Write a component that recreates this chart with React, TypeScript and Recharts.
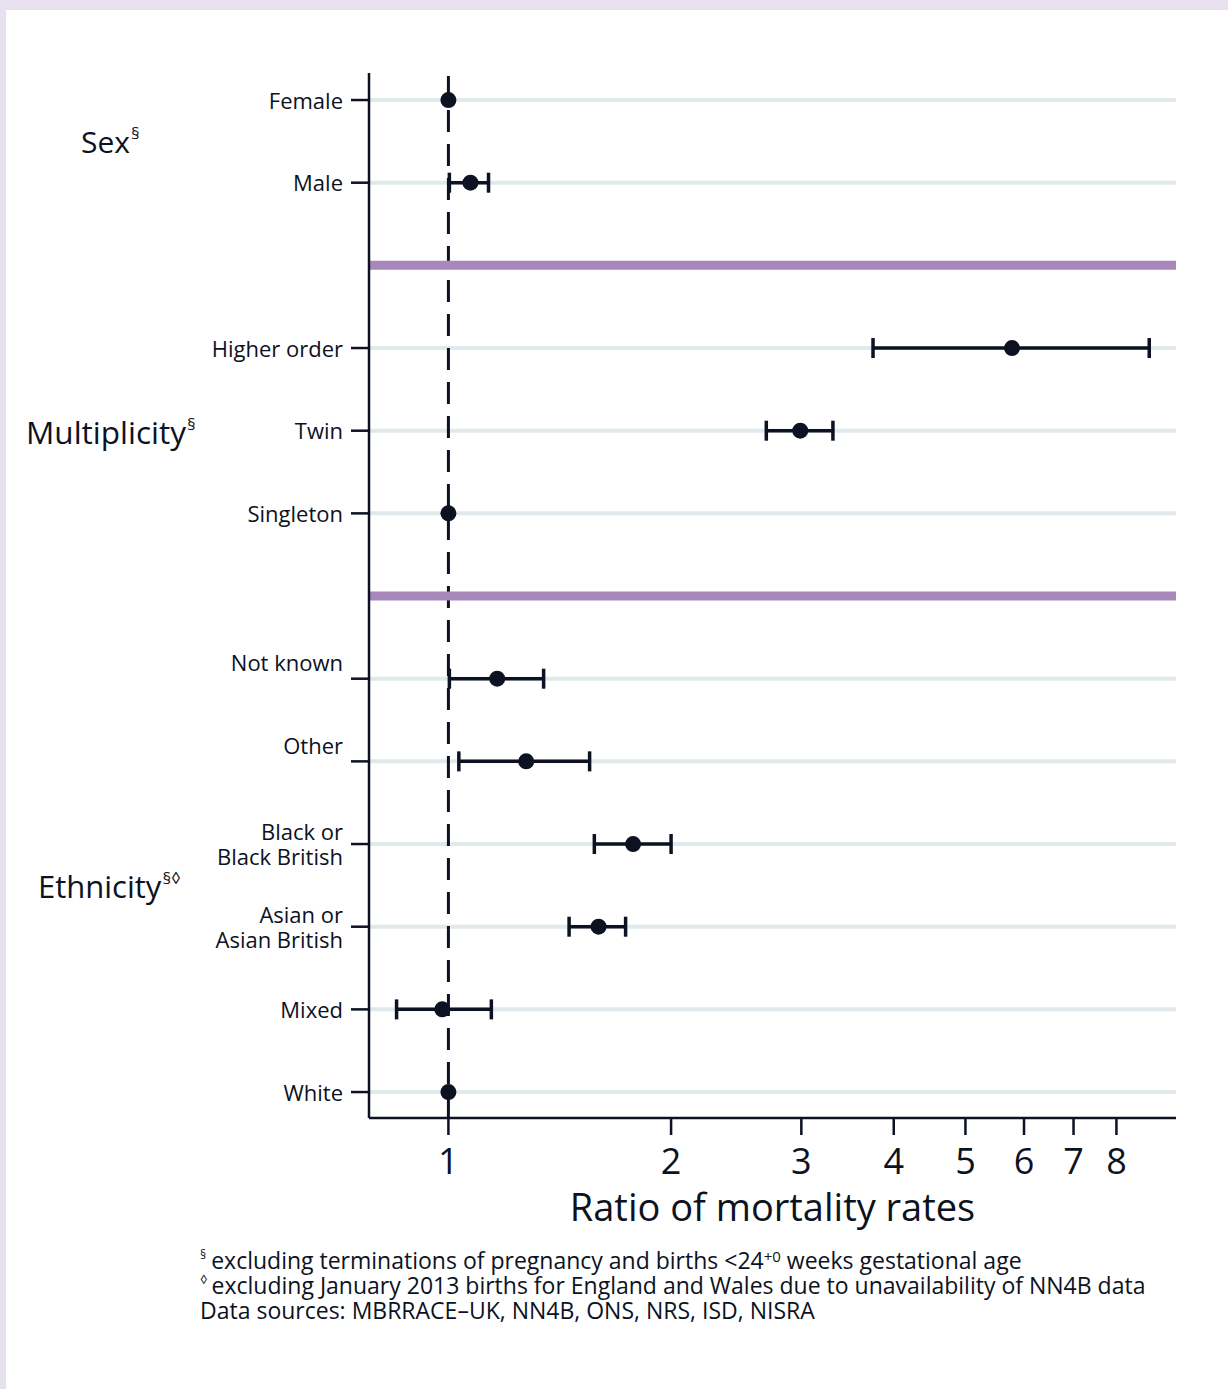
import React from "react"
import {
  ScatterChart, Scatter, XAxis, YAxis, ReferenceLine, ErrorBar,
} from "recharts"

const INK = "#0c1222"
const GRID = "#e2e9ec"
const PURPLE = "#a887bb"
const FONT = '"Open Sans", "Noto Sans", sans-serif'

// Rows top to bottom; gaps at 2 and 6 hold the group separators
const rowLabels = [
  "Female", "Male",
  "Higher order", "Twin", "Singleton",
  "Not known", "Other", "Black or\nBlack British", "Asian or\nAsian British", "Mixed", "White",
]
const rowPos = [0, 1, 3, 4, 5, 7, 8, 9, 10, 11, 12]
const separators = [2, 6]

// Rate ratios with 95% CI (reference categories have no interval)
const estimate = [1, 1.071, 5.78, 2.99, 1, 1.164, 1.274, 1.777, 1.596, 0.981, 1]
const lower = [null, 1.003, 3.75, 2.69, null, 1.003, 1.033, 1.575, 1.456, 0.851, null]
const upper = [null, 1.133, 8.86, 3.31, null, 1.345, 1.552, 2.0, 1.736, 1.143, null]

const xTicks = [1, 2, 3, 4, 5, 6, 7, 8]
const xDomain = [0.781, 9.63]
const yDomain = [-0.327, 12.314]

// Labels that sit a little above their tick
const raisedRows = [7, 8]

const withCI = rowPos
  .map((y, i) => ({ y, x: estimate[i], lo: lower[i], hi: upper[i] }))
  .filter((d) => d.lo != null && d.hi != null)
  .map((d) => ({ x: d.x, y: d.y, err: [d.x - (d.lo as number), (d.hi as number) - d.x] }))

const refRows = rowPos
  .map((y, i) => ({ y, x: estimate[i], lo: lower[i] }))
  .filter((d) => d.lo == null)
  .map((d) => ({ x: d.x, y: d.y }))

const Dot = (props: any) => <circle cx={props.cx} cy={props.cy} r={8} fill={INK} />

function RowTick(props: any) {
  const { x, y, payload } = props
  const idx = rowPos.indexOf(payload.value)
  if (idx < 0) return null
  const lines = rowLabels[idx].split("\n")
  const shift = raisedRows.includes(payload.value) ? -16 : 0
  const lh = 25
  const top = y + shift - ((lines.length - 1) * lh) / 2 + 1
  return (
    <text x={x} textAnchor="end" fill={INK} fontSize={22} fontFamily={FONT}>
      {lines.map((l, i) => (
        <tspan key={i} x={x} y={top + i * lh} dy="0.35em">{l}</tspan>
      ))}
    </text>
  )
}

function GroupLabel({ text, sup, left, cy, size }: { text: string; sup: string; left: number; cy: number; size: number }) {
  return (
    <div style={{ position: "absolute", left, top: cy, transform: "translateY(-50%)", fontSize: size, lineHeight: 1, whiteSpace: "nowrap" }}>
      {text}
      <span style={{ fontSize: 17, position: "relative", top: -14, marginLeft: 1, lineHeight: 0 }}>{sup}</span>
    </div>
  )
}

export default function App() {
  return (
    <div style={{ position: "absolute", left: 0, top: 0, width: 1228, height: 1389, background: "#e6e0ef", fontFamily: FONT, color: INK, overflow: "hidden" }}>
      <div style={{ position: "absolute", left: 6, top: 10, width: 1222, height: 1379, background: "#fff" }} />

      <div style={{ position: "absolute", left: 0, top: 0 }}>
        <ScatterChart width={1228} height={1389} margin={{ top: 73, right: 52, bottom: 211, left: 9 }}>
          <XAxis
            type="number" dataKey="x" scale="log" domain={xDomain} allowDataOverflow
            ticks={xTicks} height={60} tickSize={17} tickMargin={13}
            axisLine={{ stroke: INK, strokeWidth: 2.5 }} tickLine={{ stroke: INK, strokeWidth: 2.5 }}
            tick={{ fill: INK, fontSize: 36, fontFamily: FONT }}
          />
          <YAxis
            type="number" dataKey="y" domain={yDomain} reversed allowDataOverflow
            ticks={rowPos} interval={0} width={360} tickSize={18} tickMargin={8}
            axisLine={{ stroke: INK, strokeWidth: 2.5 }} tickLine={{ stroke: INK, strokeWidth: 2.5 }}
            tick={<RowTick />}
          />
          {/* light row guides */}
          {rowPos.map((r) => (
            <ReferenceLine key={`g${r}`} y={r} stroke={GRID} strokeWidth={4} />
          ))}
          <ReferenceLine x={1} stroke={INK} strokeWidth={3} strokeDasharray="22 12" />
          {separators.map((s) => (
            <ReferenceLine key={`s${s}`} y={s} stroke={PURPLE} strokeWidth={9} />
          ))}
          <Scatter data={withCI} shape={Dot} isAnimationActive={false}>
            <ErrorBar dataKey="err" direction="x" width={10} stroke={INK} strokeWidth={3.5} isAnimationActive={false} />
          </Scatter>
          <Scatter data={refRows} shape={Dot} isAnimationActive={false} />
        </ScatterChart>
      </div>

      <GroupLabel text="Sex" sup="§" left={81} cy={142} size={30} />
      <GroupLabel text="Multiplicity" sup="§" left={26} cy={432} size={31.5} />
      <GroupLabel text="Ethnicity" sup="§◊" left={38} cy={886} size={31} />

      <div style={{ position: "absolute", left: 369, width: 807, top: 1186, textAlign: "center", fontSize: 38, lineHeight: 1.1 }}>
        Ratio of mortality rates
      </div>

      <div style={{ position: "absolute", left: 200, top: 1248, fontSize: 23, whiteSpace: "nowrap" }}>
        <div style={{ height: 25, lineHeight: "25px" }}>
          <span style={{ fontSize: 12, position: "relative", top: -10, marginRight: 5, lineHeight: 0 }}>§</span>
          excluding terminations of pregnancy and births &lt;24<span style={{ fontSize: 15, position: "relative", top: -7, lineHeight: 0 }}>+0</span> weeks gestational age
        </div>
        <div style={{ height: 25, lineHeight: "25px" }}>
          <span style={{ fontSize: 13, position: "relative", top: -10, marginRight: 4, lineHeight: 0 }}>◊</span>
          excluding January 2013 births for England and Wales due to unavailability of NN4B data
        </div>
        <div style={{ height: 25, lineHeight: "25px" }}>Data sources: MBRRACE–UK, NN4B, ONS, NRS, ISD, NISRA</div>
      </div>
    </div>
  )
}
